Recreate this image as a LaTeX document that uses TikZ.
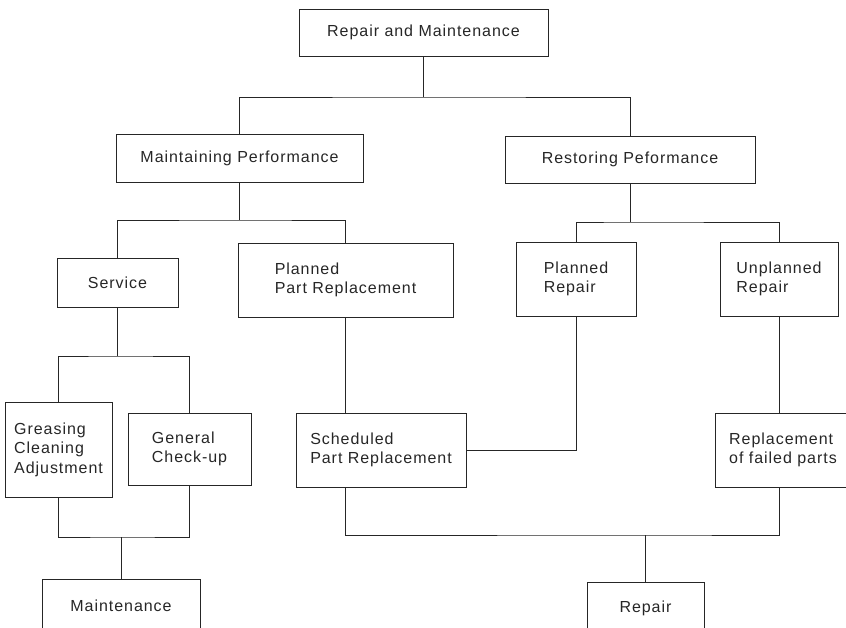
\documentclass[tikz,border=0pt]{standalone}
\usepackage{fontspec}
\setmainfont{Liberation Sans}[LetterSpace=6]
\usepackage{tikz}

\begin{document}
\begin{tikzpicture}[x=1pt, y=-1pt,
    box/.style={draw=black!85, line width=0.8pt, inner sep=0pt, align=left,
        text=black!85, font=\fontsize{16}{19.5}\selectfont},
    link/.style={draw=black!85, line width=0.8pt}]
    \clip (0,0) rectangle (846,627);

    % Top level
    \node[box, minimum width=249, minimum height=47] (rm) at (423.5,32.5) {Repair and Maintenance};

    % Second level
    \node[box, minimum width=247, minimum height=48] (mp) at (239.5,158) {Maintaining Performance};
    \node[box, minimum width=250, minimum height=47] (rp) at (630,159.5) {Restoring Peformance};

    % Third level
    \node[box, minimum width=121, minimum height=49] (sv) at (117.5,282.5) {Service};
    \node[box, minimum width=215, minimum height=74] (ppr) at (345.5,280) {Planned\\Part Replacement};
    \node[box, minimum width=120, minimum height=74] (pr) at (576,279) {Planned\\Repair};
    \node[box, minimum width=118, minimum height=74] (ur) at (779,279) {Unplanned\\Repair};

    % Fourth level
    \node[box, minimum width=107, minimum height=95] (gr) at (58.5,449.5) {Greasing\\Cleaning\\Adjustment};
    \node[box, minimum width=123, minimum height=72] (gc) at (189.5,449) {General\\Check-up};
    \node[box, minimum width=170, minimum height=74] (sp) at (381,450) {Scheduled\\Part Replacement};
    \node[box, minimum width=136, minimum height=74] (rf) at (783,450) {Replacement\\of failed parts};

    % Bottom level
    \node[box, minimum width=158, minimum height=54] (mt) at (121,606) {Maintenance};
    \node[box, minimum width=117, minimum height=52] (rep) at (645.5,608) {Repair};

    % Connectors
    \draw[link] (rm.south) -- (rm.south |- 0,97);
    \draw[link] (mp.north) |- (rm.south |- 0,97) -| (rp.north);
    \draw[link] (mp.south) -- (mp.south |- 0,220);
    \draw[link] (sv.north) |- (mp.south |- 0,220) -| (ppr.north);
    \draw[link] (rp.south) -- (rp.south |- 0,222);
    \draw[link] (pr.north) |- (rp.south |- 0,222) -| (ur.north);
    \draw[link] (sv.south) -- (sv.south |- 0,356);
    \draw[link] (gr.north) |- (sv.south |- 0,356) -| (gc.north);
    \draw[link] (ppr.south) -- (ppr.south |- sp.north);
    \draw[link] (pr.south) |- (sp.east);
    \draw[link] (ur.south) -- (ur.south |- rf.north);
    \draw[link] (gr.south) |- (mt.north |- 0,537) -| (gc.south);
    \draw[link] (mt.north |- 0,537) -- (mt.north);
    \draw[link] (sp.south -| ppr.south) |- (rep.north |- 0,535) -| (rf.south -| ur.south);
    \draw[link] (rep.north |- 0,535) -- (rep.north);
\end{tikzpicture}
\end{document}
